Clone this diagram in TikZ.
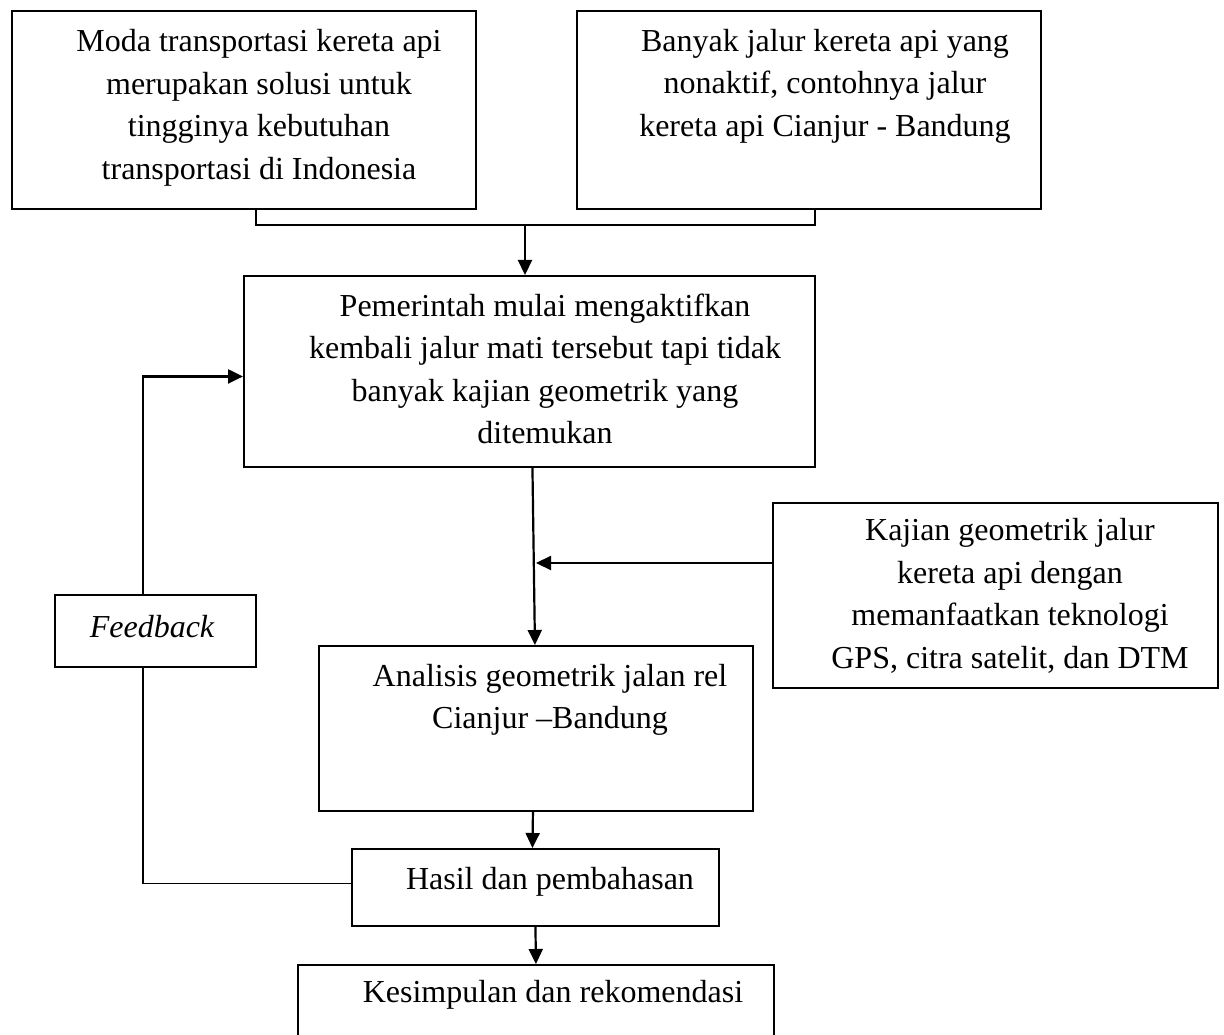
\documentclass[tikz,border=0pt]{standalone}
\usepackage{fontspec}
\setmainfont{Liberation Serif}
\usepackage{tikz}
\usetikzlibrary{positioning,arrows.meta}
\tikzset{
  node-box/.style={draw=black,line width=1.9pt,anchor=north west,inner sep=0pt},
  node-text/.style={align=center,inner sep=0pt,font=\fontsize{32}{42.5}\selectfont},
  arrow/.style={-{Triangle[length=15pt,width=14pt]},line width=2.2pt},
  link/.style={line width=1.9pt},
}

\begin{document}
\begin{tikzpicture}[x=1pt,y=-1pt]
  \clip (0,0) rectangle (1224,1035);
  % kotak
  \node[node-box,minimum width=464pt,minimum height=198pt] (moda) at (11,10) {};
  \node[node-box,minimum width=464pt,minimum height=198pt] (banyak) at (576,10) {};
  \node[node-box,minimum width=571pt,minimum height=191pt] (pemerintah) at (243,275) {};
  \node[node-box,minimum width=445pt,minimum height=185pt] (kajian) at (772,502) {};
  \node[node-box,minimum width=434pt,minimum height=165pt] (analisis) at (318,645) {};
  \node[node-box,minimum width=367pt,minimum height=77pt] (hasil) at (351,848) {};
  \node[node-box,minimum width=476pt,minimum height=95pt] (kesimpulan) at (297,964) {};
  \node[node-box,minimum width=201pt,minimum height=72pt] (feedback) at (54,594) {};
  % teks
  \node[node-text] (modaT) at (259,108) {Moda transportasi kereta api\\merupakan solusi untuk\\tingginya kebutuhan\\transportasi di Indonesia};
  \node[node-text] (banyakT) at (825,86) {Banyak jalur kereta api yang\\nonaktif, contohnya jalur\\kereta api Cianjur - Bandung};
  \node[node-text] (pemerintahT) at (545,369) {Pemerintah mulai mengaktifkan\\kembali jalur mati tersebut tapi tidak\\banyak kajian geometrik yang\\ditemukan};
  \node[node-text] (kajianT) at (1010,596) {Kajian geometrik jalur\\kereta api dengan\\memanfaatkan teknologi\\GPS, citra satelit, dan DTM};
  \node[node-text] (analisisT) at (550,700) {Analisis geometrik jalan rel\\Cianjur --Bandung};
  \node[node-text] (hasilT) at (550,882) {Hasil dan pembahasan};
  \node[node-text] (kesimpulanT) at (553,995) {Kesimpulan dan rekomendasi};
  \node[node-text,font=\fontsize{32}{42.5}\selectfont\itshape] (feedbackT) at (152,627) {Feedback};
  % panah
  \coordinate (join) at (525,225);
  \coordinate (kajianIn) at (536,563);
  \draw[link] ([xshift=12pt]moda.south) |- (join) -| ([xshift=6pt]banyak.south);
  \draw[arrow] (join) -- (join |- pemerintah.north);
  \draw[arrow] ([xshift=3pt]pemerintah.south) -- ([xshift=-1pt]analisis.north);
  \draw[arrow] (kajian.west |- kajianIn) -- (kajianIn);
  \draw[arrow] ([xshift=-3pt]analisis.south) -- ([xshift=-3pt]hasil.north);
  \draw[arrow] (hasil.south) -- (kesimpulan.north);
  \draw[link] ([yshift=4pt]hasil.west) -| ([xshift=-12.5pt]feedback.south);
  \draw[arrow] ([xshift=-12.5pt]feedback.north) |- ([yshift=-5pt]pemerintah.west);
\end{tikzpicture}
\end{document}
